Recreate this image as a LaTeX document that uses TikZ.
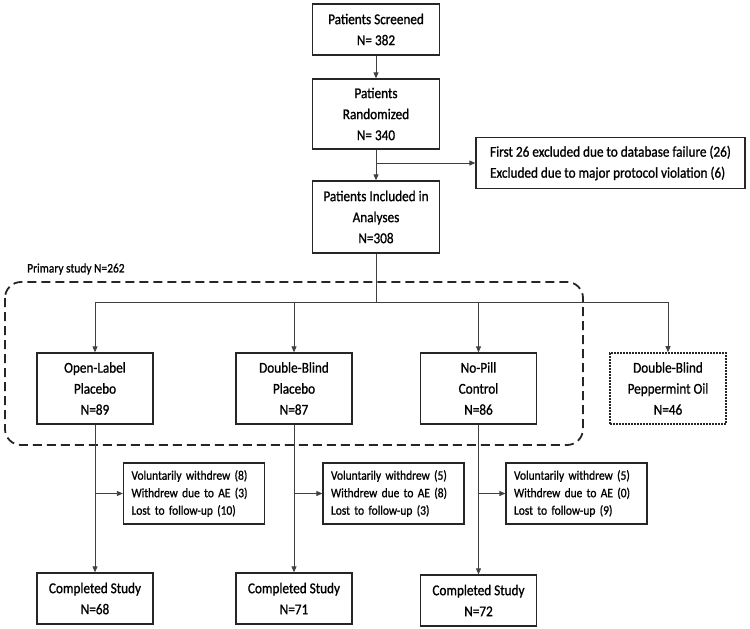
\documentclass[tikz,border=0pt]{standalone}
\usepackage{fontspec}
\setmainfont{Carlito}[FakeStretch=0.88, FakeBold=1]
\usetikzlibrary{arrows.meta}

\begin{document}
\begin{tikzpicture}[x=1pt,y=-1pt,
    box/.style={draw=black!85, line width=1.3pt, align=center, inner sep=0pt,
                font=\fontsize{15}{21}\selectfont},
    sidebox/.style={draw=black!85, line width=1.3pt, align=left, inner xsep=8pt, inner ysep=0pt},
    flow/.style={draw=black!75, line width=0.8pt, -{Triangle[length=6pt,width=5pt]}},
    link/.style={draw=black!75, line width=0.8pt}]
    \useasboundingbox (0,0) rectangle (750,629);

    % Top of the chart
    \node[box, minimum width=127pt, minimum height=51pt] (screen) at (376,29.5) {Patients Screened\\N= 382};
    \node[box, minimum width=127pt, minimum height=70pt] (rand) at (376,114) {Patients\\Randomized\\N= 340};
    \node[box, minimum width=127pt, minimum height=72pt] (incl) at (376,217) {Patients Included in\\Analyses\\N=308};
    \node[sidebox, minimum width=269pt, minimum height=51pt, font=\fontsize{15}{21}\selectfont] (excl) at (610.5,163)
        {First 26 excluded due to database failure (26)\\Excluded due to major protocol violation (6)};

    % Primary study
    \draw[black!85, line width=1.8pt, dash pattern=on 9pt off 5pt, rounded corners=16pt] (5,282) rectangle (583,445);
    \node[anchor=west, inner xsep=0pt, font=\fontsize{13}{15}\selectfont] (prim) at (27,269) {Primary study N=262};

    % Arms
    \foreach \n/\x/\txt in {olp/95/{Open-Label\\Placebo\\N=89}, dbp/294/{Double-Blind\\Placebo\\N=87},
                            npc/478.5/{No-Pill\\Control\\N=86}}
        \node[box, minimum width=116pt, minimum height=71pt] (\n) at (\x,388.5) {\txt};
    \node[box, line width=1.6pt, dash pattern=on 1.6pt off 1.4pt, minimum width=116pt, minimum height=71pt] (pep) at (668,388.5)
        {Double-Blind\\Peppermint Oil\\N=46};

    % Withdrawals
    \foreach \n/\x/\a/\b/\c in {wd1/194/8/3/10, wd2/393.5/5/8/3, wd3/576.5/5/0/9}
        \node[sidebox, text width=125pt, minimum height=61pt, font=\fontsize{13}{17.5}\selectfont] (\n) at (\x,493.5)
            {Voluntarily withdrew (\a)\\Withdrew due to AE (\b)\\Lost to follow-up (\c)};

    % Completed
    \foreach \n/\x/\y/\num in {cs1/95/598.5/68, cs2/294/598.5/71, cs3/478.5/600.5/72}
        \node[box, minimum width=116pt, minimum height=51pt] (\n) at (\x,\y) {Completed Study\\N=\num};

    % Edges
    \coordinate (split) at (376,302);
    \draw[flow] (screen) -- (rand);
    \draw[flow] (rand) -- (incl);
    \draw[flow] (rand.south |- excl.west) -- (excl.west);
    \draw[link] (incl) -- (split);
    \foreach \n in {olp, dbp, npc, pep}
        \draw[flow] (split) -| (\n.north);
    \foreach \n/\m/\w in {olp/cs1/wd1, dbp/cs2/wd2, npc/cs3/wd3} {
        \draw[flow] (\n) -- (\n |- \m.north);
        \draw[flow] (\n.south |- \w.west) -- (\w.west);
    }
\end{tikzpicture}
\end{document}
